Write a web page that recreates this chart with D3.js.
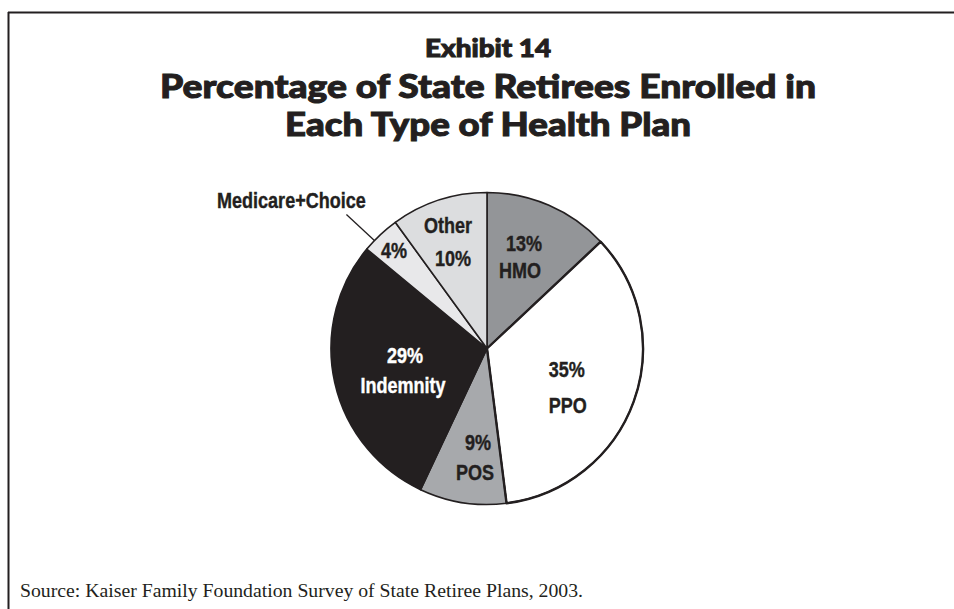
<!DOCTYPE html>
<html>
<head>
<meta charset="utf-8">
<script src="https://cdn.jsdelivr.net/npm/d3@7"></script>
<style>
  html, body { margin: 0; padding: 0; background: #fff; }
  svg { display: block; }
  .lbl { font-family: "Liberation Sans", Arial, sans-serif; font-weight: bold; }
  .ttl { font-family: "Lato", "Open Sans", sans-serif; font-weight: 900; }
  .src { font-family: "Liberation Serif", "Times New Roman", serif; }
</style>
</head>
<body>
<svg id="chart" width="954" height="609"></svg>
<script>
// ---- data ----
const categories = ["HMO", "PPO", "POS", "Indemnity", "Medicare+Choice", "Other"];
const values = [13, 35, 9, 29, 4, 10];
const percentLabels = ["13%", "35%", "9%", "29%", "4%", "10%"];
const titleLines = ["Exhibit 14", "Percentage of State Retirees Enrolled in", "Each Type of Health Plan"];
const sourceText = "Source: Kaiser Family Foundation Survey of State Retiree Plans, 2003.";

// ---- styles / layout (kept separate from data) ----
const fills = ["#939598", "#ffffff", "#a7a9ac", "#231f20", "#e8e8ea", "#dcdddf"];
const textFills = ["#231f20", "#231f20", "#231f20", "#ffffff", "#231f20", "#231f20"];
// label placement: angle offset (deg) from slice middle, radius fraction, line gap, 2nd-line dx, order
const labelLayout = [
  { da: -2.6, rf: 0.669, gap: 27, dx2: -4, first: "pct" },
  { da: 0.0,  rf: 0.544, gap: 36, dx2: 1,  first: "pct" },
  { da: -3.9, rf: 0.653, gap: 30, dx2: -3, first: "pct" },
  { da: 2.6,  rf: 0.534, gap: 30, dx2: -2, first: "pct" },
  { da: -2.6, rf: 0.832, gap: 0,  dx2: 0,  first: "pct", single: true },
  { da: -0.7, rf: 0.781, gap: 33, dx2: 5,  first: "name" }
];
const narrow = 0.82;
const labelSize = 22;

const svg = d3.select("#chart");
const W = 954, H = 609;
const cx = 487, cy = 348.5, R = 156;

// frame (top and left edges)
svg.append("line").attr("x1", 8).attr("y1", 12.5).attr("x2", W).attr("y2", 12.5)
  .attr("stroke", "#231f20").attr("stroke-width", 2);
svg.append("line").attr("x1", 8.5).attr("y1", 12).attr("x2", 8.5).attr("y2", H)
  .attr("stroke", "#231f20").attr("stroke-width", 2);

// titles
const titleSpec = [
  { y: 57, size: 24, len: 126 },
  { y: 98, size: 33, len: 656 },
  { y: 136, size: 33, len: 406 }
];
titleLines.forEach((t, i) => {
  svg.append("text").attr("class", "ttl")
    .attr("x", 488).attr("y", titleSpec[i].y)
    .attr("text-anchor", "middle")
    .attr("font-size", titleSpec[i].size)
    .attr("textLength", titleSpec[i].len)
    .attr("lengthAdjust", "spacingAndGlyphs")
    .attr("fill", "#231f20")
    .attr("stroke", "#231f20")
    .attr("stroke-width", 1.0)
    .text(t);
});

// pie
const pie = d3.pie().sort(null).value(d => d)
  .startAngle(0).endAngle(2 * Math.PI);
const arcs = pie(values);
const arc = d3.arc().innerRadius(0).outerRadius(R);
const g = svg.append("g").attr("transform", `translate(${cx},${cy})`);

g.selectAll("path.slice").data(arcs).enter().append("path")
  .attr("class", "slice")
  .attr("d", arc)
  .attr("fill", (d, i) => fills[i])
  .attr("stroke", "#231f20")
  .attr("stroke-width", 1.6)
  .attr("stroke-linejoin", "round");
// PPO outline drawn a bit heavier
g.append("path").attr("d", arc(arcs[1])).attr("fill", "none")
  .attr("stroke", "#231f20").attr("stroke-width", 2.4).attr("stroke-linejoin", "round");

function narrowText(parent, x, y, t, fill) {
  parent.append("text").attr("class", "lbl")
    .attr("transform", `translate(${x},${y}) scale(${narrow},1)`)
    .attr("text-anchor", "middle")
    .attr("font-size", labelSize)
    .attr("fill", fill)
    .attr("stroke", fill)
    .attr("stroke-width", 0.4)
    .text(t);
}

// labels
const polar = (ang, r) => [r * Math.sin(ang), -r * Math.cos(ang)];
arcs.forEach((d, i) => {
  const L = labelLayout[i];
  const mid = (d.startAngle + d.endAngle) / 2 + L.da * Math.PI / 180;
  const [x, y] = polar(mid, L.rf * R);
  const pct = percentLabels[i], name = categories[i];
  const lines = L.single ? [pct] : (L.first === "pct" ? [pct, name] : [name, pct]);
  lines.forEach((t, j) => {
    narrowText(g, x + (j === 1 ? L.dx2 : 0), y + j * L.gap, t, textFills[i]);
  });
});

// Medicare+Choice callout
const mc = arcs[4];
const leadAng = (mc.startAngle + mc.endAngle) / 2 - 3 * Math.PI / 180;
const [ex, ey] = polar(leadAng, R);
g.append("line")
  .attr("x1", ex - 28).attr("y1", ey - 26)
  .attr("x2", ex).attr("y2", ey)
  .attr("stroke", "#231f20").attr("stroke-width", 1.3);
narrowText(g, ex - 83, ey - 33, categories[4], "#231f20");

// source
svg.append("text").attr("class", "src")
  .attr("x", 20).attr("y", 597)
  .attr("font-size", 18.5)
  .attr("textLength", 563)
  .attr("lengthAdjust", "spacingAndGlyphs")
  .attr("fill", "#231f20")
  .text(sourceText);
</script>
</body>
</html>
